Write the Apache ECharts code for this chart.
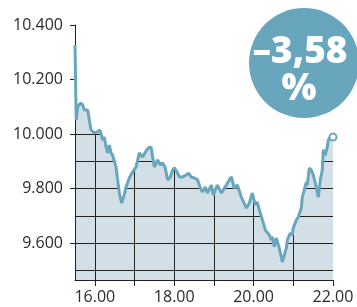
<!DOCTYPE html>
<html>
<head>
<meta charset="utf-8">
<script src="https://cdn.jsdelivr.net/npm/echarts@6/dist/echarts.min.js"></script>
<style>
html,body{margin:0;padding:0;background:#fff;}
#chart{width:357px;height:307px;}
</style>
</head>
<body>
<div id="chart"></div>
<script>
// Time of day (hours) and index level
const times = [15.50,15.53,15.567,15.635,15.693,15.736,15.819,15.861,15.904,15.987,
16.071,16.131,16.196,16.239,16.282,16.322,16.365,16.408,16.448,16.491,16.534,16.574,16.617,16.675,16.725,16.786,16.869,16.952,
17.038,17.121,17.204,17.247,17.290,17.348,17.416,17.456,17.499,17.582,17.650,17.708,17.768,17.834,17.902,17.960,
18.003,18.071,18.129,18.212,18.297,18.363,18.423,18.506,18.590,18.658,18.708,18.784,18.834,18.935,18.985,
19.086,19.187,19.312,19.388,19.438,19.514,19.589,19.690,19.816,19.892,19.967,
20.043,20.093,20.144,20.194,20.244,20.295,20.345,20.395,20.446,20.471,20.521,20.572,20.597,20.647,20.723,20.824,20.849,20.924,20.975,
21.000,21.076,21.126,21.202,21.227,21.277,21.328,21.353,21.403,21.453,21.504,21.579,21.630,21.680,21.730,21.756,21.806,21.856,21.882,21.932,22.000];
const values = [10327,10052,10099,10114,10107,10088,10088,10052,10015,10004,
10008,10015,9978,9989,9953,9931,9960,9931,9923,9923,9879,9832,9784,9747,9769,9806,9839,9861,
9879,9931,9916,9923,9938,9949,9953,9916,9879,9905,9887,9894,9879,9832,9843,9868,
9876,9861,9843,9843,9850,9857,9843,9839,9832,9802,9788,9806,9784,9813,9777,
9813,9784,9813,9832,9843,9802,9813,9769,9729,9747,9784,
9740,9751,9722,9729,9674,9648,9648,9630,9612,9623,9586,9619,9612,9582,9531,9582,9612,9637,9630,
9656,9685,9696,9729,9769,9766,9824,9813,9876,9868,9850,9806,9769,9832,9868,9942,9923,9953,9978,9989,9989];

const xTickValues = [16,17,18,19,20,21,22];
const xLabelValues = [16,18,20,22];
const xGridValues = [16,17,18,19,20,21];
const yLabelValues = [9600,9800,10000,10200,10400];
const yGridValues = [9500,9600,9700,9800,9900,10000];
const changeText = ['–3,58', '%'];

const pts = times.map((t,i)=>[t, values[i]]);
const last = pts.length - 1;
const linePts = pts.map((p,i)=> i===last ? {value:p, symbol:'circle', symbolSize:7,
  itemStyle:{color:'#fff', borderColor:'#68a6be', borderWidth:2}} : p);

const fmtY = v => { const s = String(Math.round(v)); return s.slice(0, s.length-3) + '.' + s.slice(-3); };
const fmtX = v => Math.floor(v) + '.' + String(Math.round((v % 1) * 60)).padStart(2,'0');

const FONT = 'Open Sans';
const TXT = '#2b2b2b';
const GRID = '#222';

const chart = echarts.init(document.getElementById('chart'), null, {renderer:'canvas'});
chart.setOption({
  animation:false,
  grid:{left:75, right:24, top:25, bottom:27, containLabel:false},
  xAxis:{type:'value', min:15.5, max:22, z:5,
    axisLine:{show:true, lineStyle:{color:GRID, width:1}},
    axisTick:{show:true, length:6, customValues:xTickValues, lineStyle:{color:GRID}},
    axisLabel:{customValues:xLabelValues, formatter:fmtX, color:TXT, fontFamily:FONT, fontSize:16, margin:9},
    splitLine:{show:false}},
  yAxis:{type:'value', min:9465, max:10400, z:5,
    axisLine:{show:true, lineStyle:{color:GRID, width:1}},
    axisTick:{show:true, length:5, customValues:yLabelValues, lineStyle:{color:GRID}},
    axisLabel:{customValues:yLabelValues, formatter:fmtY, color:TXT, fontFamily:FONT, fontSize:16, margin:12},
    splitLine:{show:false}},
  series:[
    {type:'line', data:pts, z:1, symbol:'none', silent:true,
      lineStyle:{width:0, opacity:0}, areaStyle:{color:'#d3dfe7', opacity:1, origin:'start'}},
    {type:'line', data:pts, z:2, symbol:'none', silent:true, lineStyle:{width:0, opacity:0},
      markLine:{z:2, silent:true, symbol:['none','none'], label:{show:false}, animation:false,
        lineStyle:{color:GRID, width:1, type:'solid'},
        emphasis:{disabled:true},
        data: yGridValues.map(v=>({yAxis:v})).concat(xGridValues.map(t=>({xAxis:t})))}},
    {type:'line', data:pts, z:4, symbol:'none', silent:true,
      lineStyle:{width:0, opacity:0}, areaStyle:{color:'#fff', opacity:1, origin:'end'}},
    {type:'line', data:linePts, z:6, symbol:'none', showSymbol:true, silent:true,
      lineStyle:{color:'#68a6be', width:3}}
  ],
  graphic:[
    {type:'circle', z:100, shape:{cx:304, cy:63, r:55}, style:{fill:'#68a6be'}},
    {type:'text', z:101, style:{text:changeText[0], x:300, y:52, textAlign:'center', textVerticalAlign:'middle',
      font:'800 37px "Open Sans"', fill:'#fff'}},
    {type:'text', z:101, style:{text:changeText[1], x:299, y:89, textAlign:'center', textVerticalAlign:'middle',
      font:'800 37px "Open Sans"', fill:'#fff'}}
  ]
});
</script>
</body>
</html>
